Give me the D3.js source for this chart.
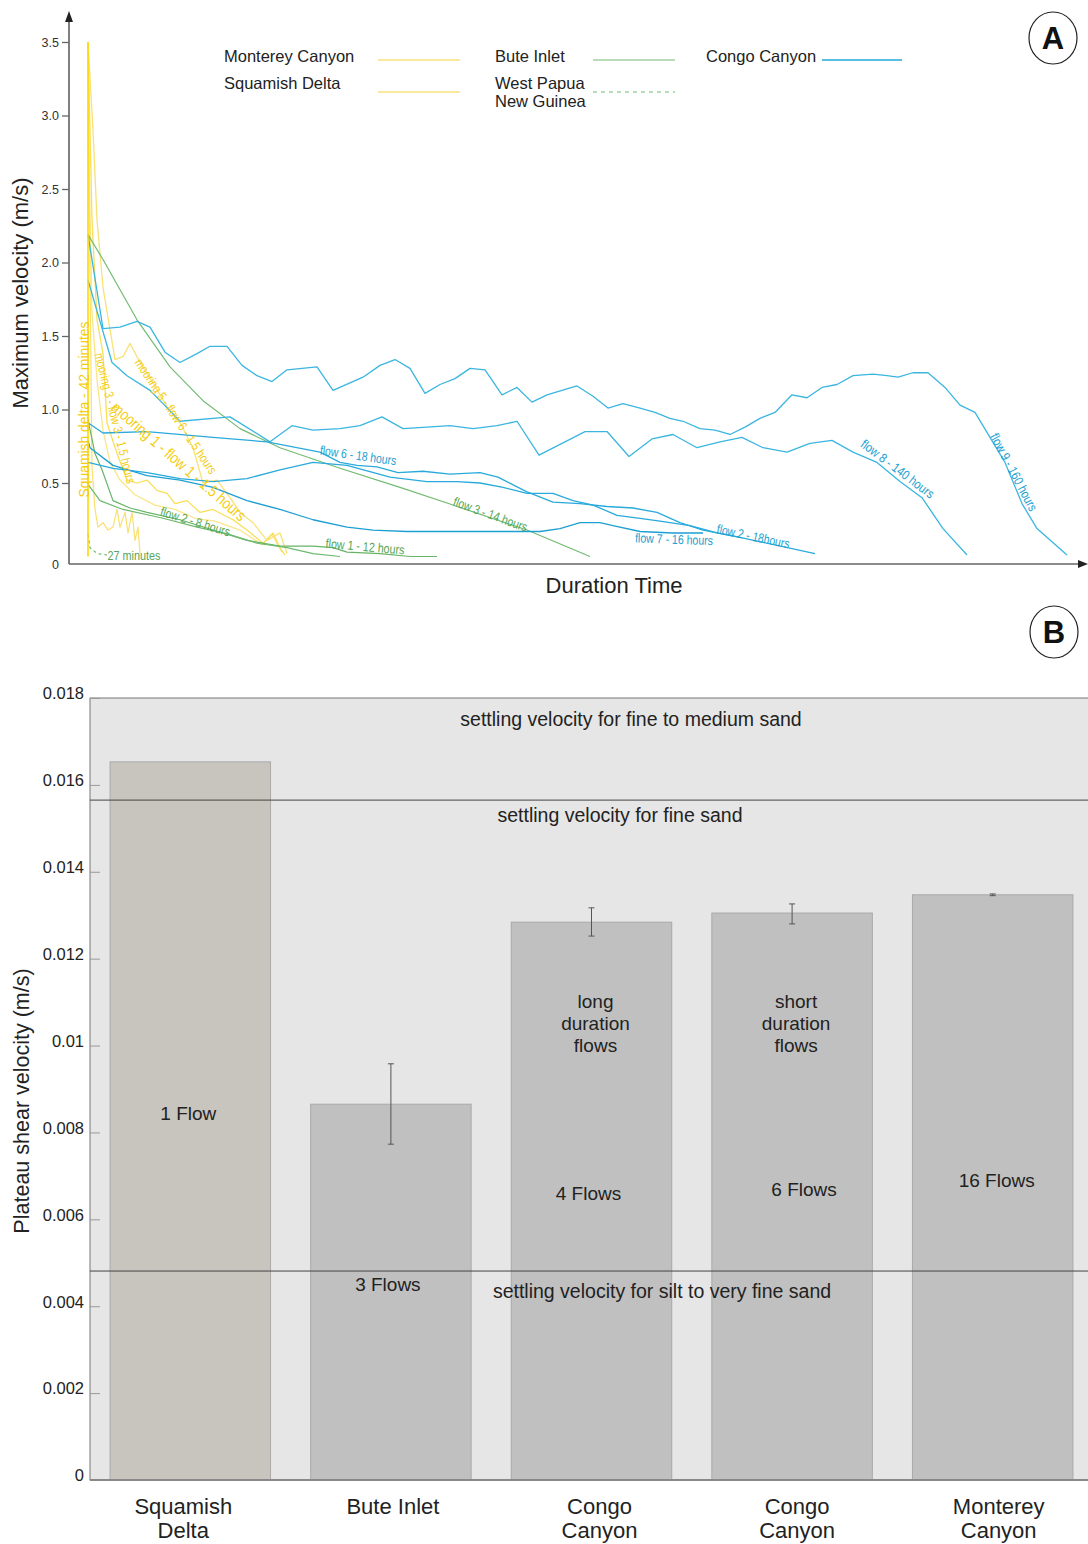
<!DOCTYPE html>
<html>
<head>
<meta charset="utf-8">
<script src="https://cdn.jsdelivr.net/npm/d3@7"></script>
<style>
  body { margin: 0; background: #fff; font-family: "Liberation Sans", Arial, Helvetica, sans-serif; }
  svg text { fill: #222; }
</style>
</head>
<body>
<div id="chart"></div>
<script>

// ---------- panel A: velocity vs duration (time in relative units, velocity in m/s) ----------
var congoFlow9 = [[0,2.19],[1.5,1.55],[3.2,1.56],[4.9,1.60],[6.2,1.56],[7.7,1.39],[9.2,1.32],[10.9,1.38],[12.2,1.43],[13.9,1.43],
    [15.4,1.30],[16.9,1.23],[18.4,1.19],[19.9,1.27],[22.9,1.29],[24.5,1.13],[27.5,1.22],[29.2,1.30],[30.7,1.34],[32.2,1.28],
    [33.7,1.11],[35.2,1.17],[36.7,1.21],[38.2,1.28],[39.7,1.27],[41.4,1.10],[42.9,1.15],[44.4,1.05],[45.9,1.10],[47.4,1.13],
    [48.9,1.16],[50.5,1.09],[52.0,1.01],[53.5,1.04],[55.2,1.01],[56.7,0.98],[58.2,0.94],[59.5,0.92],[61.2,0.87],[62.7,0.86],
    [64.2,0.83],[65.7,0.88],[67.2,0.94],[68.7,0.98],[70.4,1.10],[71.9,1.08],[73.4,1.15],[74.9,1.17],[76.5,1.23],[78.5,1.24],
    [79.9,1.23],[81.0,1.22],[82.5,1.25],[84.0,1.25],[85.7,1.15],[87.2,1.03],[88.7,0.98],[90.2,0.81],[91.7,0.64],[93.4,0.36],
    [94.9,0.19],[97.9,0.01]];
var congoFlow8 = [[0,1.88],[2.4,1.32],[3.9,1.23],[6.2,1.13],[7.5,1.04],[9.2,0.92],[14.2,0.95],[18.2,0.78],[20.4,0.89],[22.5,0.86],
    [25.2,0.87],[27.2,0.89],[29.4,0.95],[31.5,0.87],[33.9,0.88],[36.2,0.89],[38.5,0.87],[40.9,0.89],[42.9,0.92],[45.1,0.69],
    [47.4,0.77],[49.7,0.85],[51.9,0.85],[54.1,0.68],[56.4,0.80],[58.5,0.83],[60.9,0.74],[63.2,0.78],[65.4,0.81],[67.5,0.74],
    [69.9,0.71],[72.2,0.77],[74.4,0.79],[76.5,0.71],[78.9,0.64],[81.2,0.51],[83.4,0.40],[85.5,0.19],[87.9,0.01]];
var congoFlow6 = [[0,0.91],[1.5,0.84],[5.9,0.85],[12.5,0.81],[17.9,0.78],[23.2,0.71],[25.2,0.64],[26.9,0.62],[28.9,0.61],[31.0,0.57],
    [33.5,0.58],[36.2,0.56],[39.2,0.57],[41.0,0.54],[43.9,0.44],[46.5,0.37],[49.2,0.36],[51.9,0.34],[54.5,0.33],[56.9,0.30],
    [59.2,0.23],[61.5,0.18],[65.2,0.13]];
var congoFlow2 = [[0,0.64],[2.5,0.60],[5.9,0.57],[9.2,0.53],[12.5,0.51],[15.9,0.53],[19.2,0.59],[22.5,0.64],[25.9,0.62],[30.2,0.54],
    [33.9,0.51],[36.9,0.51],[39.2,0.50],[41.5,0.47],[43.9,0.43],[46.5,0.43],[48.5,0.38],[50.5,0.35],[52.9,0.28],[55.2,0.26],
    [57.2,0.24],[60.2,0.21],[62.9,0.16],[65.2,0.13],[72.7,0.02]];
var congoFlow7 = [[0,0.79],[0.2,0.74],[2.5,0.62],[5.9,0.55],[9.2,0.52],[12.5,0.47],[15.9,0.38],[19.2,0.32],[22.5,0.25],[25.9,0.20],
    [28.5,0.18],[31.9,0.17],[35.2,0.17],[39.2,0.17],[41.9,0.17],[45.2,0.17],[47.2,0.19],[49.2,0.23],[51.2,0.23],[52.5,0.21],
    [55.2,0.17],[58.5,0.16],[61.5,0.16]];
var buteFlow3 = [[0,2.19],[1.5,2.02],[4.9,1.61],[8.2,1.29],[11.5,1.06],[15.2,0.87],[19.2,0.74],[25.2,0.60],[31.2,0.47],[36.5,0.35],
    [43.9,0.18],[50.2,0.00]];
var buteFlow1 = [[0,0.93],[0.7,0.70],[1.4,0.59],[2.5,0.38],[4.2,0.33],[5.9,0.30],[9.2,0.25],[12.5,0.18],[15.9,0.11],[19.2,0.07],
    [22.5,0.07],[24.5,0.06],[25.9,0.03],[29.2,0.02],[32.2,0.00],[34.9,0.00]];
var buteFlow2 = [[0,0.49],[1.2,0.38],[3.5,0.32],[7.5,0.26],[10.9,0.20],[14.2,0.15],[16.9,0.09],[19.9,0.06],[22.5,0.02],[25.2,0.00]];
var papuaFlow = [[0,0.15],[0.2,0.06],[0.9,0.02],[1.9,0.01]];
var squamishRise = [[0,0],[0,3.5]];
var squamishFlow = [[0,3.5],[0.1,2.6],[0.4,0.61],[0.7,0.32],[1.0,0.20],[1.5,0.23],[2.0,0.18],[2.5,0.20],[2.9,0.32],
    [3.2,0.20],[3.7,0.30],[4.0,0.16],[4.4,0.30],[4.7,0.11],[5.0,0.20],[5.2,0.02]];
var montereyMooring5 = [[0,3.5],[0.5,2.90],[0.9,2.29],[1.5,1.83],[2.7,1.34],[3.5,1.36],[4.2,1.45],[5.2,1.32],[6.5,1.18],[7.9,1.02],
    [9.2,0.91],[10.5,0.74],[11.5,0.50],[12.9,0.52],[13.9,0.43],[15.2,0.30],[16.5,0.23],[17.9,0.11],[19.2,0.16],[19.9,0.02]];
var montereyMooring1 = [[0,3.5],[0.4,2.29],[0.9,1.61],[1.5,1.38],[1.9,0.91],[2.9,0.70],[3.9,0.52],[4.9,0.50],[5.9,0.52],[6.9,0.45],
    [7.9,0.43],[8.7,0.36],[9.9,0.38],[11.2,0.30],[12.5,0.32],[14.5,0.25],[15.9,0.18],[17.5,0.09],[18.5,0.16],[19.2,0.06],[19.7,0.01]];
var montereyMooring3 = [[0,3.0],[0.4,1.66],[0.9,1.20],[1.5,0.86],[2.2,0.64],[3.2,0.52],[4.7,0.42],[6.7,0.35],[8.7,0.32],[10.7,0.26],
    [12.7,0.24],[15.2,0.18],[17.4,0.08],[18.4,0.15],[19.4,0.03]];

var velocityTicks = [0.5, 1.0, 1.5, 2.0, 2.5, 3.0, 3.5];

var legendA = [
    {label: ["Monterey Canyon"], col: 0, row: 0, color: "#f6e27c", dash: null},
    {label: ["Squamish Delta"], col: 0, row: 1, color: "#f6e27c", dash: null},
    {label: ["Bute Inlet"], col: 1, row: 0, color: "#9fd09f", dash: null},
    {label: ["West Papua", "New Guinea"], col: 1, row: 1, color: "#9fd09f", dash: "4,4"},
    {label: ["Congo Canyon"], col: 2, row: 0, color: "#21a8d8", dash: null}
];

// annotation labels along the curves: [text, t, v, angle, fontSize, textLength, colour]
var curveLabels = [
    ["Squamish delta - 42 minutes", -0.3, 1.00, -90, 14, 176, "#f5cd10"],
    ["mooring 3 - flow 3 - 1.5 hours", 2.6, 0.94, 76, 13, 134, "#f5cd10"],
    ["mooring 5 - flow 6 - 1.5 hours", 8.7, 0.95, 56, 13, 136, "#f5cd10"],
    ["mooring 1 - flow 1 - 1.5 hours", 9.0, 0.64, 41, 16, 172, "#f5cd10"],
    ["flow 6 - 18 hours", 27.0, 0.68, 8, 13, 77, "#1aa0d0"],
    ["flow 3 - 14 hours", 40.2, 0.28, 20, 13, 78, "#55a655"],
    ["flow 2 - 8 hours", 10.7, 0.23, 17, 13, 72, "#55a655"],
    ["flow 1 - 12 hours", 27.7, 0.06, 5, 13, 79, "#55a655"],
    ["27 minutes", 4.6, 0.00, 0, 13, 53, "#55a655"],
    ["flow 7 - 16 hours", 58.6, 0.11, 2, 13, 78, "#1aa0d0"],
    ["flow 2 - 18hours", 66.5, 0.13, 12, 13, 74, "#1aa0d0"],
    ["flow 8 - 140 hours", 80.9, 0.59, 37, 13, 88, "#1aa0d0"],
    ["flow 9 - 160 hours", 92.5, 0.57, 62, 13, 86, "#1aa0d0"]
];

// ---------- panel B: plateau shear velocity ----------
var sites = ["Squamish Delta", "Bute Inlet", "Congo Canyon (long)", "Congo Canyon (short)", "Monterey Canyon"];
var siteLabels = [["Squamish", "Delta"], ["Bute Inlet"], ["Congo", "Canyon"], ["Congo", "Canyon"], ["Monterey", "Canyon"]];
var siteLabelDx = [-7, 2, 8, 5, 6];
var shearVelocity = [0.01653, 0.00865, 0.01284, 0.01305, 0.01347];
var shearLow = [null, 0.00773, 0.01252, 0.01280, 0.01345];
var shearHigh = [null, 0.00958, 0.01317, 0.01326, 0.01349];
var flowCounts = ["1 Flow", "3 Flows", "4 Flows", "6 Flows", "16 Flows"];
var flowCountPos = [0.00829, 0.00435, 0.00645, 0.00654, 0.00674];
var flowCountDx = [-2, -3, -3, 12, 4];
var durationNotes = [null, null, ["long", "duration", "flows"], ["short", "duration", "flows"], null];
var shearTicks = [0, 0.002, 0.004, 0.006, 0.008, 0.010, 0.012, 0.014, 0.016, 0.018];
var settlingLines = [0.01565, 0.00481];
var settlingLabels = [
    ["settling velocity for fine to medium sand", 0.01736, 631],
    ["settling velocity for fine sand", 0.01515, 620],
    ["settling velocity for silt to very fine sand", 0.00419, 662]
];


const W = 1088, H = 1544;

const svg = d3.select("#chart")
    .append("svg")
    .attr("width", W)
    .attr("height", H);

// ====================== PANEL A ======================
var xA = d3.scaleLinear().domain([0, 100]).range([88, 1088]);
var yA = d3.scaleLinear().domain([0, 3.5]).range([556.5, 42]);
var axisYA = 564;

var gA = svg.append("g").attr("class", "panel-a");

// y axis with arrow
gA.append("line")
    .attr("x1", 69).attr("x2", 69)
    .attr("y1", axisYA).attr("y2", 20)
    .style("stroke", "#555").style("stroke-width", 1.5);
gA.append("path")
    .attr("d", "M69,11 L65,22 L73,22 Z")
    .style("fill", "#222");

gA.append("g")
    .attr("class", "y-axis-a")
    .attr("transform", "translate(69,0)")
    .call(d3.axisLeft(yA)
        .tickValues(velocityTicks)
        .tickFormat(d3.format(".1f"))
        .tickSize(7)
        .tickPadding(3))
    .call(function (g) { g.select(".domain").remove(); })
    .call(function (g) {
        g.selectAll(".tick line").style("stroke", "#666").style("stroke-width", 1.3);
        g.selectAll(".tick text").style("font-size", "12.5px").style("fill", "#333")
            .style("font-family", "'Liberation Sans', Arial, sans-serif");
    });

gA.append("text")
    .attr("x", 59).attr("y", axisYA + 5)
    .attr("text-anchor", "end")
    .style("font-size", "12.5px").style("fill", "#333")
    .text("0");

// x axis with arrow
gA.append("line")
    .attr("x1", 69).attr("x2", 1082)
    .attr("y1", axisYA).attr("y2", axisYA)
    .style("stroke", "#666").style("stroke-width", 1.5);
gA.append("path")
    .attr("d", "M1088," + axisYA + " L1078," + (axisYA - 4) + " L1078," + (axisYA + 4) + " Z")
    .style("fill", "#222");

gA.append("text")
    .attr("transform", "translate(28,293) rotate(-90)")
    .attr("text-anchor", "middle")
    .style("font-size", "22px")
    .text("Maximum velocity (m/s)");

gA.append("text")
    .attr("x", 614).attr("y", 593)
    .attr("text-anchor", "middle")
    .style("font-size", "22px")
    .text("Duration Time");

// curves
var seriesA = [
    {data: montereyMooring3, color: "#fae68a", width: 1.3, dash: null},
    {data: montereyMooring1, color: "#f8df5a", width: 1.3, dash: null},
    {data: montereyMooring5, color: "#f9e275", width: 1.3, dash: null},
    {data: squamishFlow, color: "#f9e070", width: 1.2, dash: null},
    {data: buteFlow3, color: "#72bb72", width: 1.2, dash: null},
    {data: buteFlow1, color: "#66b466", width: 1.2, dash: null},
    {data: buteFlow2, color: "#6fb96f", width: 1.2, dash: null},
    {data: papuaFlow, color: "#6fb96f", width: 1.2, dash: "3,3"},
    {data: congoFlow9, color: "#3bb6e0", width: 1.3, dash: null},
    {data: congoFlow8, color: "#3bb6e0", width: 1.3, dash: null},
    {data: congoFlow6, color: "#2aaadb", width: 1.3, dash: null},
    {data: congoFlow2, color: "#2aaadb", width: 1.3, dash: null},
    {data: congoFlow7, color: "#1e9fd2", width: 1.3, dash: null},
    {data: squamishRise, color: "#ffd800", width: 1.6, dash: null}
];

var lineA = d3.line()
    .x(function (d) { return xA(d[0]); })
    .y(function (d) { return yA(d[1]); });

gA.selectAll("path.curve")
    .data(seriesA)
    .enter()
    .append("path")
    .attr("class", "curve")
    .attr("d", function (d) { return lineA(d.data); })
    .style("fill", "none")
    .style("stroke", function (d) { return d.color; })
    .style("stroke-width", function (d) { return d.width; })
    .style("stroke-dasharray", function (d) { return d.dash; })
    .style("stroke-linejoin", "round");

gA.selectAll("text.curve-label")
    .data(curveLabels)
    .enter()
    .append("text")
    .attr("class", "curve-label")
    .attr("transform", function (d) {
        return "translate(" + xA(d[1]) + "," + yA(d[2]) + ") rotate(" + d[3] + ")";
    })
    .attr("text-anchor", "middle")
    .attr("dominant-baseline", "middle")
    .attr("textLength", function (d) { return d[5]; })
    .attr("lengthAdjust", "spacingAndGlyphs")
    .style("font-size", function (d) { return d[4] + "px"; })
    .style("fill", function (d) { return d[6]; })
    .text(function (d) { return d[0]; });

// legend
var legendColX = [224, 495, 706];
var legendLineX = [[378, 460], [593, 675], [822, 902]];
var legendRowY = [60, 92];

var leg = gA.selectAll("g.legend-item")
    .data(legendA)
    .enter()
    .append("g")
    .attr("class", "legend-item");

leg.append("line")
    .attr("x1", function (d) { return legendLineX[d.col][0]; })
    .attr("x2", function (d) { return legendLineX[d.col][1]; })
    .attr("y1", function (d) { return legendRowY[d.row]; })
    .attr("y2", function (d) { return legendRowY[d.row]; })
    .style("stroke", function (d) { return d.color; })
    .style("stroke-width", 1.5)
    .style("stroke-dasharray", function (d) { return d.dash; });

leg.each(function (d) {
    var t = d3.select(this).append("text")
        .attr("x", legendColX[d.col])
        .attr("y", d.row === 0 ? 62 : 89)
        .style("font-size", "16.5px");
    d.label.forEach(function (s, i) {
        t.append("tspan")
            .attr("x", legendColX[d.col])
            .attr("dy", i === 0 ? 0 : 18)
            .text(s);
    });
});

// panel letters
function panelLetter(cx, cy, letter) {
    svg.append("ellipse")
        .attr("cx", cx).attr("cy", cy)
        .attr("rx", 24).attr("ry", 26)
        .style("fill", "#fff").style("stroke", "#222").style("stroke-width", 1.2);
    svg.append("text")
        .attr("x", cx).attr("y", cy + 11)
        .attr("text-anchor", "middle")
        .style("font-size", "31px").style("font-weight", "bold").style("fill", "#111")
        .text(letter);
}
panelLetter(1053, 38, "A");
panelLetter(1054, 632, "B");


// ====================== PANEL B ======================
var xB = d3.scaleBand()
    .domain(sites)
    .range([90, 1093])
    .paddingInner(0.2)
    .paddingOuter(0.1);

var yB = d3.scaleLinear()
    .domain([0, 0.018])
    .range([1480, 698]);

var gB = svg.append("g").attr("class", "panel-b");

gB.append("rect")
    .attr("x", 90).attr("y", yB(0.018))
    .attr("width", W - 90 + 2).attr("height", yB(0) - yB(0.018))
    .style("fill", "#e6e6e6")
    .style("stroke", "#777").style("stroke-width", 1);

gB.append("g")
    .attr("class", "y-axis-b")
    .attr("transform", "translate(90,0)")
    .call(d3.axisLeft(yB)
        .tickValues(shearTicks)
        .tickFormat(function (d) { return d === 0 ? "0" : String(+d.toFixed(3)); })
        .tickSize(-10)
        .tickPadding(6))
    .call(function (g) { g.select(".domain").remove(); })
    .call(function (g) {
        g.selectAll(".tick line").style("stroke", "#999").style("stroke-width", 1);
        g.selectAll(".tick text").style("font-size", "16.5px").style("fill", "#222")
            .attr("dy", "0.05em")
            .style("font-family", "'Liberation Sans', Arial, sans-serif");
    });

gB.append("text")
    .attr("transform", "translate(29,1101) rotate(-90)")
    .attr("text-anchor", "middle")
    .style("font-size", "21.5px")
    .text("Plateau shear velocity (m/s)");

// bars
gB.selectAll("rect.bar")
    .data(sites)
    .enter()
    .append("rect")
    .attr("class", "bar")
    .attr("x", function (d) { return xB(d); })
    .attr("width", xB.bandwidth())
    .attr("y", function (d, i) { return yB(shearVelocity[i]); })
    .attr("height", function (d, i) { return yB(0) - yB(shearVelocity[i]); })
    .style("fill", function (d, i) { return i === 0 ? "#c8c5bf" : "#c0c0c0"; })
    .style("stroke", "#a9a9a9")
    .style("stroke-width", 1);

// settling velocity lines
gB.selectAll("line.settling")
    .data(settlingLines)
    .enter()
    .append("line")
    .attr("class", "settling")
    .attr("x1", 90).attr("x2", W)
    .attr("y1", function (d) { return yB(d); })
    .attr("y2", function (d) { return yB(d); })
    .style("stroke", "#444").style("stroke-width", 1);

gB.selectAll("text.settling-label")
    .data(settlingLabels)
    .enter()
    .append("text")
    .attr("class", "settling-label")
    .attr("x", function (d) { return d[2]; })
    .attr("y", function (d) { return yB(d[1]); })
    .attr("text-anchor", "middle")
    .style("font-size", "19.5px")
    .text(function (d) { return d[0]; });

// error bars
var errIdx = d3.range(sites.length).filter(function (i) { return shearLow[i] !== null; });
var err = gB.selectAll("g.err")
    .data(errIdx)
    .enter()
    .append("g")
    .attr("class", "err")
    .style("stroke", "#555").style("stroke-width", 1);

err.append("line")
    .attr("x1", function (i) { return xB(sites[i]) + xB.bandwidth() / 2; })
    .attr("x2", function (i) { return xB(sites[i]) + xB.bandwidth() / 2; })
    .attr("y1", function (i) { return yB(shearLow[i]); })
    .attr("y2", function (i) { return yB(shearHigh[i]); });

[shearLow, shearHigh].forEach(function (arr) {
    err.append("line")
        .attr("x1", function (i) { return xB(sites[i]) + xB.bandwidth() / 2 - 3; })
        .attr("x2", function (i) { return xB(sites[i]) + xB.bandwidth() / 2 + 3; })
        .attr("y1", function (i) { return yB(arr[i]); })
        .attr("y2", function (i) { return yB(arr[i]); });
});

// flow counts inside bars
gB.selectAll("text.count")
    .data(sites)
    .enter()
    .append("text")
    .attr("class", "count")
    .attr("x", function (d, i) { return xB(d) + xB.bandwidth() / 2 + flowCountDx[i]; })
    .attr("y", function (d, i) { return yB(flowCountPos[i]); })
    .attr("text-anchor", "middle")
    .style("font-size", "19px")
    .text(function (d, i) { return flowCounts[i]; });

sites.forEach(function (s, i) {
    if (!durationNotes[i]) return;
    var t = gB.append("text")
        .attr("text-anchor", "middle")
        .style("font-size", "19px")
        .attr("y", yB(0.01086));
    durationNotes[i].forEach(function (w, k) {
        t.append("tspan")
            .attr("x", xB(s) + xB.bandwidth() / 2 + 4)
            .attr("dy", k === 0 ? 0 : 22)
            .text(w);
    });
});

// baseline and category labels
gB.append("line")
    .attr("x1", 90).attr("x2", W)
    .attr("y1", yB(0)).attr("y2", yB(0))
    .style("stroke", "#888").style("stroke-width", 2);

sites.forEach(function (s, i) {
    var t = gB.append("text")
        .attr("text-anchor", "middle")
        .style("font-size", "22px")
        .attr("y", 1514);
    siteLabels[i].forEach(function (w, k) {
        t.append("tspan")
            .attr("x", xB(s) + xB.bandwidth() / 2 + siteLabelDx[i])
            .attr("dy", k === 0 ? 0 : 24)
            .text(w);
    });
});

</script>
</body>
</html>
